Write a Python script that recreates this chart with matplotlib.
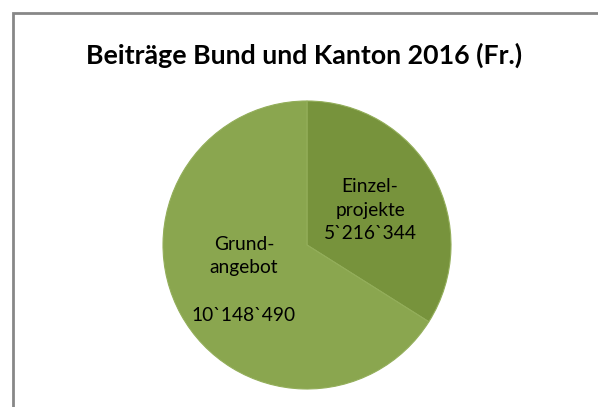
import numpy as np
import matplotlib
matplotlib.use("Agg")
import matplotlib.pyplot as plt
from matplotlib.patches import Rectangle

plt.rcParams['font.family'] = ['Lato', 'DejaVu Sans']

title = "Beiträge Bund und Kanton 2016 (Fr.)"
categories = ["Einzel-\nprojekte", "Grund-\nangebot\n"]
values = [5216344, 10148490]
colors = ["#77933C", "#8AA64F"]

W, H = 598, 407
fig = plt.figure(figsize=(W / 100, H / 100), dpi=100)
ax = fig.add_axes([0, 0, 1, 1])

cx, cy, r = 307, H - 245, 144
wedges, _ = ax.pie(values, colors=colors, startangle=90, counterclock=False,
                   center=(cx, cy), radius=r,
                   wedgeprops=dict(edgecolor="#93AE5A", linewidth=0.8))
ax.set_xlim(0, W)
ax.set_ylim(0, H)
ax.set_aspect('auto')
ax.axis('off')

for w, cat, v in zip(wedges, categories, values):
    ang = np.deg2rad((w.theta1 + w.theta2) / 2)
    x = cx + 0.5 * r * np.cos(ang)
    y = cy + 0.5 * r * np.sin(ang)
    label = cat + "\n" + f"{v:,}".replace(",", "`")
    ax.text(x, y, label, ha="center", va="center", fontsize=13.8,
            linespacing=1.47, color="black")

ax.text(304, H - 55, title, ha="center", va="center", fontsize=19.3,
        fontweight="bold", color="black")

# chart frame (cut off at the right and bottom like the screenshot)
fig.patches.append(Rectangle((13 / W, -0.1), 1.2, (H - 13) / H + 0.1,
                             transform=fig.transFigure, fill=False,
                             edgecolor="#878787", linewidth=2))

fig.savefig("out.png", dpi=100)
